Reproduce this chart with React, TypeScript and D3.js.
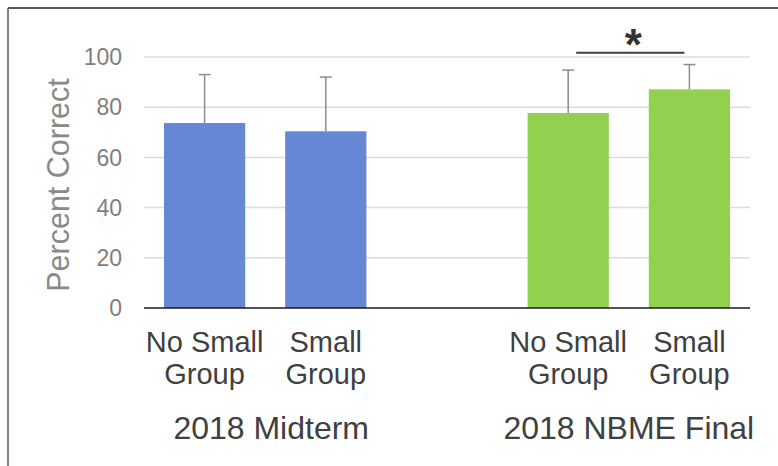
import React from "react";
import * as d3 from "d3";

// slot "gap" is the empty category between the two exams
const slots = ["mid-no", "mid-yes", "gap", "final-no", "final-yes"];
const barKeys = ["mid-no", "mid-yes", "final-no", "final-yes"];
const barLabels = [["No Small", "Group"], ["Small", "Group"], ["No Small", "Group"], ["Small", "Group"]];
const means = [73.7, 70.4, 77.7, 87.1];
const errTops = [93.0, 92.0, 94.8, 97.0];
const barColors = ["#6688d4", "#6688d4", "#92d050", "#92d050"];
const groups = [
  { name: "2018 Midterm", from: "mid-no", to: "mid-yes" },
  { name: "2018 NBME Final", from: "final-no", to: "final-yes" },
];
const yTicks = [0, 20, 40, 60, 80, 100];

const W = 778;
const H = 466;
const font = "'Liberation Sans', Arial, sans-serif";

export default function App() {
  const x = d3.scaleBand().domain(slots).range([144, 750]).paddingInner(0.33).paddingOuter(0.165);
  const y = d3.scaleLinear().domain([0, 100]).range([308, 57]);
  const bw = x.bandwidth();
  const cx = (k: string) => (x(k) as number) + bw / 2;

  const sigFrom = cx("final-no") + 8;
  const sigTo = cx("final-yes") - 5;

  return (
    <svg width={W} height={H} style={{ position: "absolute", left: 0, top: 0, background: "#fff" }} fontFamily={font}>
      {/* frame */}
      <line x1={8} x2={W} y1={8} y2={8} stroke="#595959" strokeWidth={2} />
      <line x1={8} x2={8} y1={8} y2={H} stroke="#595959" strokeWidth={1.5} />

      {/* gridlines */}
      {yTicks.filter((t) => t > 0).map((t) => (
        <line key={t} x1={144} x2={750} y1={y(t)} y2={y(t)} stroke="#dcdcdc" strokeWidth={1.5} />
      ))}

      {/* tick labels */}
      {yTicks.map((t) => (
        <text key={t} x={122} y={y(t)} dy="0.36em" textAnchor="end" fontSize={23} fill="#7f7f7f">
          {t}
        </text>
      ))}

      {/* y title */}
      <text
        transform={`translate(69,${185}) rotate(-90)`}
        textAnchor="middle"
        fontSize={30.5}
        fill="#8a8a8a"
      >
        Percent Correct
      </text>

      {/* bars */}
      {barKeys.map((k, i) => (
        <rect key={k} x={x(k)} y={y(means[i])} width={bw} height={y(0) - y(means[i])} fill={barColors[i]} />
      ))}

      {/* error bars */}
      {barKeys.map((k, i) => (
        <g key={k} stroke="#8c8c8c" strokeWidth={1.5}>
          <line x1={cx(k)} x2={cx(k)} y1={y(means[i])} y2={y(errTops[i])} />
          <line x1={cx(k) - 6} x2={cx(k) + 6} y1={y(errTops[i])} y2={y(errTops[i])} />
        </g>
      ))}

      {/* baseline */}
      <line x1={144} x2={750} y1={y(0)} y2={y(0)} stroke="#1a1a1a" strokeWidth={1.5} />

      {/* category labels */}
      {barKeys.map((k, i) => (
        <text key={k} x={cx(k)} textAnchor="middle" fontSize={29} fill="#404040">
          <tspan x={cx(k)} y={352}>{barLabels[i][0]}</tspan>
          <tspan x={cx(k)} y={384}>{barLabels[i][1]}</tspan>
        </text>
      ))}

      {/* group labels */}
      {groups.map((g, i) => (
        <text
          key={g.name}
          x={(cx(g.from) + cx(g.to)) / 2 + (i === 0 ? 6 : 0)}
          y={439}
          textAnchor="middle"
          fontSize={32}
          fill="#404040"
        >
          {g.name}
        </text>
      ))}

      {/* significance */}
      <line x1={sigFrom} x2={sigTo} y1={52.7} y2={52.7} stroke="#404040" strokeWidth={2} />
      <text x={(sigFrom + sigTo) / 2 + 3} y={60} textAnchor="middle" fontSize={44} fontWeight="bold" fill="#333">
        *
      </text>
    </svg>
  );
}
